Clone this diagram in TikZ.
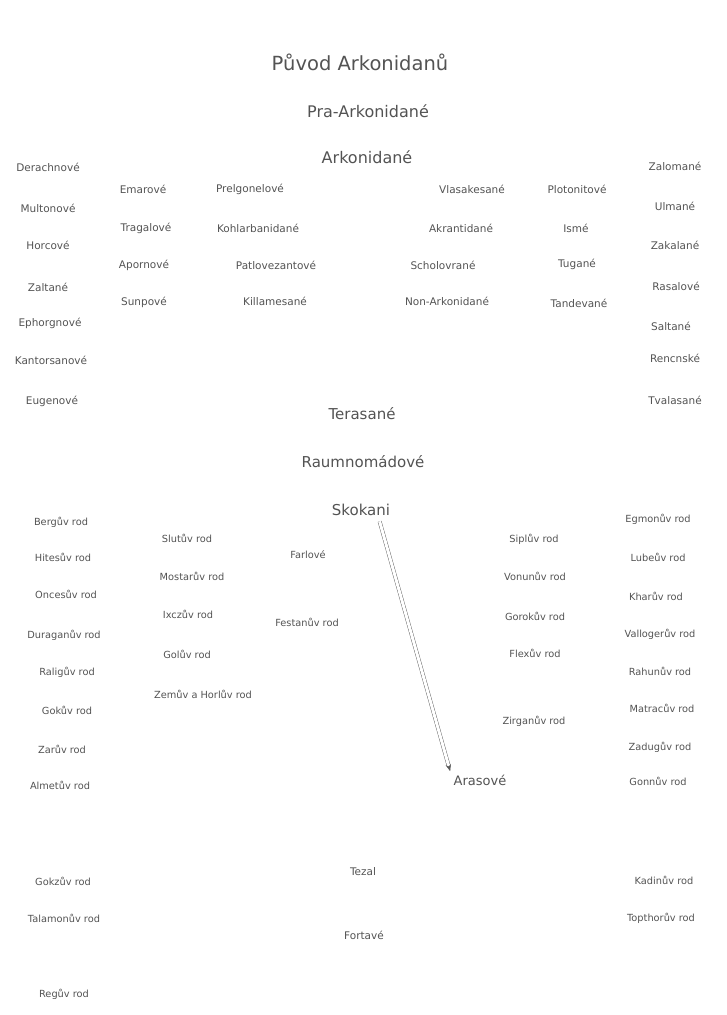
\documentclass[tikz,border=0pt]{standalone}
\usepackage{fontspec}
\setmainfont{DejaVu Sans}
\usetikzlibrary{arrows.meta}
\tikzset{
  ttl/.style={font=\fontsize{19.5}{22}\selectfont, text=gray!65!black},
  big/.style={font=\fontsize{15}{17}\selectfont, text=gray!65!black},
  nm/.style={font=\fontsize{10.5}{12}\selectfont, text=gray!65!black},
  rod/.style={font=\fontsize{9.8}{11}\selectfont, text=gray!65!black},
  link/.style={draw=gray!70!black, double=white, double distance=3pt, -{Stealth[length=7pt]}}
}
\begin{document}
\begin{tikzpicture}[x=1pt,y=-1pt]
\useasboundingbox (0,0) rectangle (726,1015);
% top
\node[ttl] (title) at (360,62) {Původ Arkonidanů};
\node[big, font=\fontsize{16}{18}\selectfont] (pra) at (368,111) {Pra-Arkonidané};
\node[big, font=\fontsize{16}{18}\selectfont] (ark) at (367,157) {Arkonidané};
% column A
\node[nm] (a1) at (48,167) {Derachnové};
\node[nm] (a2) at (48,208) {Multonové};
\node[nm] (a3) at (48,245) {Horcové};
\node[nm] (a4) at (48,287) {Zaltané};
\node[nm] (a5) at (50,323) {Ephorgnové};
\node[nm] (a6) at (51,360) {Kantorsanové};
\node[nm] (a7) at (52,401) {Eugenové};
% column B
\node[nm] (b1) at (143,189) {Emarové};
\node[nm] (b2) at (146,228) {Tragalové};
\node[nm] (b3) at (144,265) {Apornové};
\node[nm] (b4) at (144,302) {Sunpové};
% column C
\node[nm] (c1) at (250,189) {Prelgonelové};
\node[nm] (c2) at (258,228) {Kohlarbanidané};
\node[nm] (c3) at (276,265) {Patlovezantové};
\node[nm] (c4) at (275,301) {Killamesané};
% column D
\node[nm] (d1) at (472,189) {Vlasakesané};
\node[nm] (d2) at (461,228) {Akrantidané};
\node[nm] (d3) at (443,265) {Scholovrané};
\node[nm] (d4) at (447,301) {Non-Arkonidané};
% column E
\node[nm] (e1) at (577,189) {Plotonitové};
\node[nm] (e2) at (576,228) {Ismé};
\node[nm] (e3) at (577,264) {Tugané};
\node[nm] (e4) at (579,303) {Tandevané};
% column F
\node[nm] (f1) at (675,166) {Zalomané};
\node[nm] (f2) at (675,206) {Ulmané};
\node[nm] (f3) at (675,245) {Zakalané};
\node[nm] (f4) at (676,286) {Rasalové};
\node[nm] (f5) at (671,326) {Saltané};
\node[nm] (f6) at (675,358) {Rencnské};
\node[nm] (f7) at (675,400) {Tvalasané};
% middle
\node[big] (ter) at (362,414) {Terasané};
\node[big] (rau) at (363,462) {Raumnomádové};
\node[big] (sko) at (361,510) {Skokani};
% lower left column 1
\node[rod] (g1) at (61,522) {Bergův rod};
\node[rod] (g2) at (63,557) {Hitesův rod};
\node[rod] (g3) at (66,594) {Oncesův rod};
\node[rod] (g4) at (64,635) {Duraganův rod};
\node[rod] (g5) at (67,672) {Raligův rod};
\node[rod] (g6) at (67,710) {Gokův rod};
\node[rod] (g7) at (62,749) {Zarův rod};
\node[rod] (g8) at (60,785) {Almetův rod};
% lower left column 2
\node[rod] (h1) at (187,538) {Slutův rod};
\node[rod] (h2) at (192,576) {Mostarův rod};
\node[rod] (h3) at (188,614) {Ixczův rod};
\node[rod] (h4) at (187,654) {Golův rod};
\node[rod] (h5) at (203,694) {Zemův a Horlův rod};
% center left
\node[rod] (far) at (308,555) {Farlové};
\node[rod] (fes) at (307,622) {Festanův rod};
% lower right column 1
\node[rod] (i1) at (534,539) {Siplův rod};
\node[rod] (i2) at (535,576) {Vonunův rod};
\node[rod] (i3) at (535,616) {Gorokův rod};
\node[rod] (i4) at (535,653) {Flexův rod};
\node[rod] (i5) at (534,721) {Zirganův rod};
% lower right column 2
\node[rod] (j1) at (658,519) {Egmonův rod};
\node[rod] (j2) at (658,557) {Lubeův rod};
\node[rod] (j3) at (656,596) {Kharův rod};
\node[rod] (j4) at (660,634) {Vallogerův rod};
\node[rod] (j5) at (660,671) {Rahunův rod};
\node[rod] (j6) at (662,708) {Matracův rod};
\node[rod] (j7) at (660,747) {Zadugův rod};
\node[rod] (j8) at (658,781) {Gonnův rod};
% Arasove
\node[big, font=\fontsize{13}{15}\selectfont] (ara) at (480,780) {Arasové};
% bottom
\node[rod] (k1) at (63,881) {Gokzův rod};
\node[rod] (k2) at (64,918) {Talamonův rod};
\node[rod] (k3) at (64,994) {Regův rod};
\node[nm] (tez) at (363,872) {Tezal};
\node[nm] (for) at (364,935) {Fortavé};
\node[rod] (l1) at (664,880) {Kadinův rod};
\node[rod] (l2) at (661,918) {Topthorův rod};
% connector
\draw[link] (sko.south east) ++(-14,2) coordinate (s0) -- (ara.north west);
\end{tikzpicture}
\end{document}
